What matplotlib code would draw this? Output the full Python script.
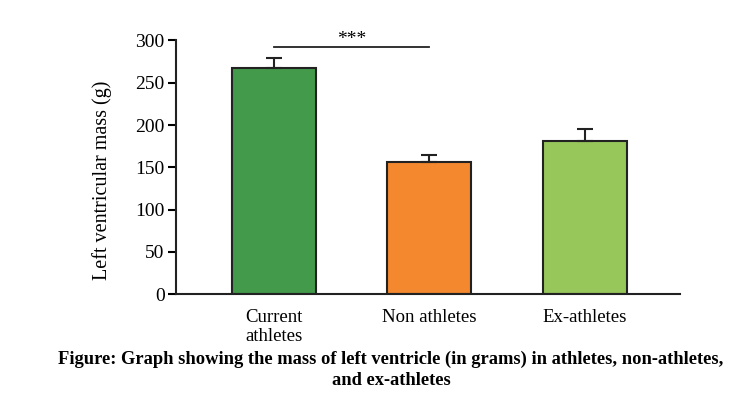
import numpy as np
import matplotlib.pyplot as plt

plt.rcParams['font.family'] = ['Liberation Serif', 'DejaVu Serif']

groups = ["Current\nathletes", "Non athletes", "Ex-athletes"]
mass = [268, 156, 181]
sem = [11, 9, 14]
colors = ["#439A4B", "#F3882E", "#97C65A"]

fig = plt.figure(figsize=(7.42, 4.13), dpi=100)
ax = fig.add_axes([0.237, 0.288, 0.679, 0.614])

x = np.arange(len(groups))
ax.bar(x, mass, width=0.54, color=colors, edgecolor="#222222", linewidth=1.5, zorder=2)
ax.errorbar(x, mass, yerr=[np.zeros(len(sem)), sem], fmt="none", ecolor="#222222",
            elinewidth=1.5, capsize=6, capthick=1.5, zorder=3)

# significance bar between current and non athletes
ax.plot([0, 1], [292, 292], color="#222222", lw=1.3, clip_on=False)
ax.text(0.5, 291, "***", ha="center", va="bottom", fontsize=14)

ax.set_xlim(-0.63, 2.61)
ax.set_ylim(0, 300)
ax.set_yticks(np.arange(0, 301, 50))
ax.set_xticks(x)
ax.set_xticklabels(groups, fontsize=13.5, linespacing=1.1)
ax.tick_params(axis="x", length=0, pad=11)
ax.tick_params(axis="y", length=6, width=1.5, labelsize=14, pad=2)
ax.set_ylabel("Left ventricular mass (g)", fontsize=14.5)
ax.yaxis.set_label_coords(-0.127, 0.45)

for s in ["top", "right"]:
    ax.spines[s].set_visible(False)
for s in ["left", "bottom"]:
    ax.spines[s].set_linewidth(1.5)
    ax.spines[s].set_color("#222222")

fig.text(0.527, 0.104, "Figure: Graph showing the mass of left ventricle (in grams) in athletes, non-athletes,\nand ex-athletes",
         ha="center", va="center", fontsize=13.3, fontweight="bold", linespacing=1.3)

fig.savefig("out.png", dpi=100)
